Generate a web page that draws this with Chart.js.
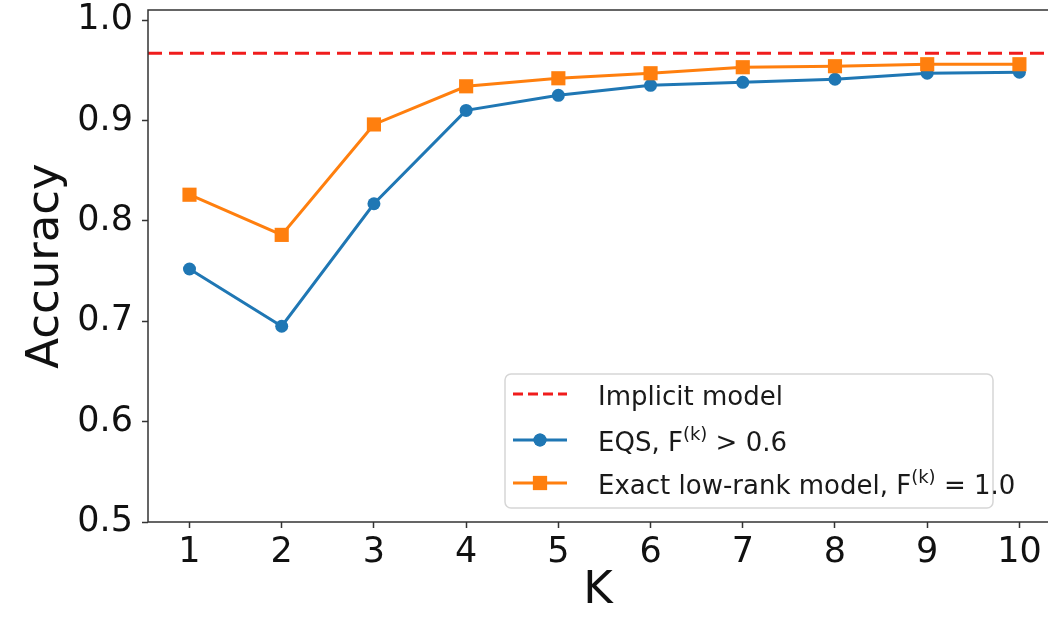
<!DOCTYPE html>
<html>
<head>
<meta charset="utf-8">
<script src="https://cdn.jsdelivr.net/npm/chart.js@4"></script>
<style>
  html, body { margin: 0; padding: 0; background: #fff; overflow: hidden; }
  #wrap { position: relative; width: 1048px; height: 618px; }
</style>
</head>
<body>
<div id="wrap"><canvas id="myChart"></canvas></div>
<script>
const K = [1, 2, 3, 4, 5, 6, 7, 8, 9, 10];
const eqsAcc = [0.752, 0.695, 0.817, 0.910, 0.925, 0.935, 0.938, 0.941, 0.947, 0.948];
const exactAcc = [0.826, 0.786, 0.896, 0.934, 0.942, 0.947, 0.953, 0.954, 0.956, 0.956];
const implicitAcc = 0.967;
const yTicks = [0.5, 0.6, 0.7, 0.8, 0.9, 1.0];

// legend texts, split so the (k) can be drawn as superscript
const legendImplicit = [{ t: 'Implicit model' }];
const legendEqs = [{ t: 'EQS, F' }, { t: '(k)', sup: true }, { t: ' > 0.6' }];
const legendExact = [{ t: 'Exact low-rank model, F' }, { t: '(k)', sup: true }, { t: ' = 1.0' }];

const FONT = '"DejaVu Sans", sans-serif';
const BLUE = '#1f77b4';
const ORANGE = '#ff7f0e';
const RED = '#f01c1c';
const SPINE = '#333333';

// dashed axhline + frame (right spine is cropped off in the original)
const framePlugin = {
    id: 'frame',
    beforeDatasetsDraw(chart) {
        const { ctx, chartArea: a, scales: { y } } = chart;
        const py = y.getPixelForValue(implicitAcc);
        ctx.save();
        ctx.strokeStyle = RED;
        ctx.lineWidth = 3;
        ctx.setLineDash([14, 7]);
        ctx.beginPath();
        ctx.moveTo(a.left, py);
        ctx.lineTo(a.right, py);
        ctx.stroke();
        ctx.restore();
    },
    afterDraw(chart) {
        const { ctx, chartArea: a } = chart;
        ctx.save();
        ctx.strokeStyle = SPINE;
        ctx.lineWidth = 1.5;
        ctx.beginPath();
        ctx.moveTo(a.right + 2, a.top);
        ctx.lineTo(a.left, a.top);
        ctx.lineTo(a.left, a.bottom);
        ctx.lineTo(a.right + 2, a.bottom);
        ctx.stroke();
        ctx.restore();
    }
};

function drawRich(ctx, parts, x, y) {
    parts.forEach(p => {
        ctx.font = (p.sup ? '18px ' : '26px ') + FONT;
        ctx.fillText(p.t, x, p.sup ? y - 11 : y);
        x += ctx.measureText(p.t).width;
    });
}

const legendPlugin = {
    id: 'innerLegend',
    afterDraw(chart) {
        const ctx = chart.ctx;
        const ds = chart.data.datasets;
        ctx.save();
        ctx.beginPath();
        ctx.roundRect(505, 374, 488, 134, 6);
        ctx.fillStyle = 'rgba(255,255,255,0.85)';
        ctx.fill();
        ctx.strokeStyle = '#d6d6d6';
        ctx.lineWidth = 1.5;
        ctx.stroke();

        const rows = [
            { y: 394, parts: legendImplicit },
            { y: 440, parts: legendEqs, d: ds[0] },
            { y: 483, parts: legendExact, d: ds[1] }
        ];
        rows.forEach(r => {
            ctx.beginPath();
            if (!r.d) {
                ctx.strokeStyle = RED;
                ctx.lineWidth = 3;
                ctx.setLineDash([10, 5]);
            } else {
                ctx.strokeStyle = r.d.borderColor;
                ctx.lineWidth = 3;
                ctx.setLineDash([]);
            }
            ctx.moveTo(513, r.y);
            ctx.lineTo(567, r.y);
            ctx.stroke();
            ctx.setLineDash([]);
            if (r.d) {
                ctx.fillStyle = r.d.borderColor;
                Chart.helpers.drawPoint(ctx, {
                    pointStyle: r.d.pointStyle,
                    radius: r.d.pointRadius,
                    borderWidth: 0
                }, 540, r.y);
                ctx.fill();
            }
            ctx.fillStyle = '#1a1a1a';
            ctx.textBaseline = 'alphabetic';
            drawRich(ctx, r.parts, 598, r.y + 11);
        });
        ctx.restore();
    }
};

const ctx = document.getElementById('myChart').getContext('2d');
const myChart = new Chart(ctx, {
    type: 'line',
    data: {
        datasets: [
            {
                label: 'EQS',
                data: K.map((k, i) => ({ x: k, y: eqsAcc[i] })),
                borderColor: BLUE,
                backgroundColor: BLUE,
                borderWidth: 3,
                pointStyle: 'circle',
                pointRadius: 6.5,
                pointBorderWidth: 0,
                tension: 0,
                order: 1
            },
            {
                label: 'Exact low-rank model',
                data: K.map((k, i) => ({ x: k, y: exactAcc[i] })),
                borderColor: ORANGE,
                backgroundColor: ORANGE,
                borderWidth: 3,
                pointStyle: 'rect',
                pointRadius: 10,
                pointBorderWidth: 0,
                tension: 0,
                order: 0
            }
        ]
    },
    options: {
        responsive: true,
        maintainAspectRatio: false,
        animation: false,
        layout: { autoPadding: false, padding: { top: 10, right: 0, left: 0, bottom: 0 } },
        plugins: {
            legend: { display: false },
            tooltip: { enabled: false }
        },
        scales: {
            x: {
                type: 'linear',
                min: 0.55,
                max: 10.31,
                afterBuildTicks: axis => { axis.ticks = K.map(v => ({ value: v })); },
                afterFit: axis => {
                    axis.height = 96;
                    axis.paddingLeft = 0;
                    axis.paddingRight = 0;
                },
                border: { display: false },
                grid: { drawOnChartArea: false, drawTicks: true, tickLength: 6, tickColor: SPINE, tickWidth: 1.5 },
                ticks: { color: '#111', font: { family: FONT, size: 35 }, padding: 4, maxRotation: 0 },
                title: { display: true, text: 'K', color: '#111', font: { family: FONT, size: 45 }, padding: { top: 2, bottom: 0 } }
            },
            y: {
                min: 0.5,
                max: 1.01,
                afterBuildTicks: axis => { axis.ticks = yTicks.map(v => ({ value: v })); },
                afterFit: axis => {
                    axis.width = 148;
                    axis.paddingTop = 0;
                    axis.paddingBottom = 0;
                },
                border: { display: false },
                grid: { drawOnChartArea: false, drawTicks: true, tickLength: 6, tickColor: SPINE, tickWidth: 1.5 },
                ticks: { color: '#111', font: { family: FONT, size: 35 }, padding: 9, callback: v => v.toFixed(1) },
                title: { display: true, text: 'Accuracy', color: '#111', font: { family: FONT, size: 45 }, padding: { top: 19, bottom: 0 } }
            }
        }
    },
    plugins: [framePlugin, legendPlugin]
});
</script>
</body>
</html>
